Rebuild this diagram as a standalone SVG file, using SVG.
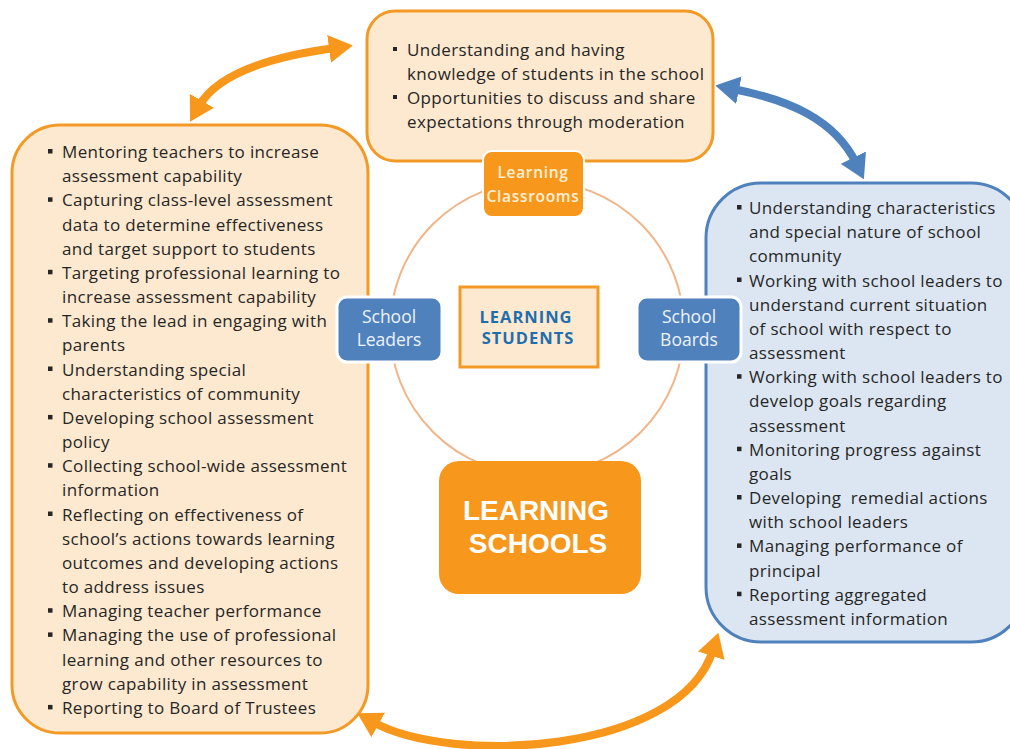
<svg xmlns="http://www.w3.org/2000/svg" width="1010" height="749" viewBox="0 0 1010 749">
<style>
.txt{font-family:"Open Sans","Liberation Sans",sans-serif;font-size:17px;letter-spacing:0.35px;fill:#262626;}
.bul{fill:#262626;}
.obox{fill:#fde9cf;stroke:#f39a26;stroke-width:3;}
.bbox{fill:#dce6f2;stroke:#4f81bd;stroke-width:3;}
.bnode{fill:#4f81bd;stroke:#ffffff;stroke-width:3;}
.bnode-t{font-family:"Open Sans","Liberation Sans",sans-serif;font-size:17.5px;fill:#eef3fa;text-anchor:middle;}
.oarrow{fill:none;stroke:#f7981d;stroke-width:8;}
.barrow{fill:none;stroke:#4f81bd;stroke-width:8;}
</style>
<defs>
<marker id="headO" markerUnits="userSpaceOnUse" markerWidth="24" markerHeight="28" refX="6" refY="14" orient="auto-start-reverse" viewBox="0 0 24 28">
<path d="M0,0 L24,14 L0,28 z" fill="#f7981d"/>
</marker>
<marker id="headB" markerUnits="userSpaceOnUse" markerWidth="24" markerHeight="28" refX="6" refY="14" orient="auto-start-reverse" viewBox="0 0 24 28">
<path d="M0,0 L24,14 L0,28 z" fill="#4f81bd"/>
</marker>
</defs>
<rect width="1010" height="749" fill="#ffffff"/>

<g id="ring">
<circle cx="537" cy="328" r="147" fill="none" stroke="#f0b58a" stroke-width="2"/>
</g>

<g id="connectors">
<path class="oarrow" d="M199,106 C215,78 260,58 335,48" marker-start="url(#headO)" marker-end="url(#headO)"/>
<path class="barrow" d="M733,89 C790,100 835,120 856,163" marker-start="url(#headB)" marker-end="url(#headB)"/>
<path class="oarrow" d="M373,722 C450,765 680,755 713,650" marker-start="url(#headO)" marker-end="url(#headO)"/>
</g>

<g id="classroom-list">
<rect class="obox" x="367" y="11" width="346" height="150" rx="28"/>
<rect class="bul" x="393" y="47" width="4" height="4"/>
<rect class="bul" x="393" y="95" width="4" height="4"/>
<text class="txt" x="407" y="56">Understanding and having</text>
<text class="txt" x="407" y="80">knowledge of students in the school</text>
<text class="txt" x="407" y="104">Opportunities to discuss and share</text>
<text class="txt" x="407" y="128">expectations through moderation</text>
</g>

<g id="leaders-list">
<rect class="obox" x="12" y="125" width="356" height="608" rx="48"/>
<g class="bul">
<rect x="48" y="149" width="4.5" height="4.5"/>
<rect x="48" y="197.3" width="4.5" height="4.5"/>
<rect x="48" y="269.8" width="4.5" height="4.5"/>
<rect x="48" y="318.2" width="4.5" height="4.5"/>
<rect x="48" y="366.5" width="4.5" height="4.5"/>
<rect x="48" y="414.9" width="4.5" height="4.5"/>
<rect x="48" y="463.2" width="4.5" height="4.5"/>
<rect x="48" y="511.5" width="4.5" height="4.5"/>
<rect x="48" y="608.2" width="4.5" height="4.5"/>
<rect x="48" y="632.4" width="4.5" height="4.5"/>
<rect x="48" y="704.9" width="4.5" height="4.5"/>
</g>
<text class="txt" x="62" y="158">Mentoring teachers to increase</text>
<text class="txt" x="62" y="182.2">assessment capability</text>
<text class="txt" x="62" y="206.3">Capturing class-level assessment</text>
<text class="txt" x="62" y="230.5">data to determine effectiveness</text>
<text class="txt" x="62" y="254.7">and target support to students</text>
<text class="txt" x="62" y="278.8">Targeting professional learning to</text>
<text class="txt" x="62" y="303">increase assessment capability</text>
<text class="txt" x="62" y="327.2">Taking the lead in engaging with</text>
<text class="txt" x="62" y="351.4">parents</text>
<text class="txt" x="62" y="375.5">Understanding special</text>
<text class="txt" x="62" y="399.7">characteristics of community</text>
<text class="txt" x="62" y="423.9">Developing school assessment</text>
<text class="txt" x="62" y="448">policy</text>
<text class="txt" x="62" y="472.2">Collecting school-wide assessment</text>
<text class="txt" x="62" y="496.4">information</text>
<text class="txt" x="62" y="520.5">Reflecting on effectiveness of</text>
<text class="txt" x="62" y="544.7">school’s actions towards learning</text>
<text class="txt" x="62" y="568.9">outcomes and developing actions</text>
<text class="txt" x="62" y="593.1">to address issues</text>
<text class="txt" x="62" y="617.2">Managing teacher performance</text>
<text class="txt" x="62" y="641.4">Managing the use of professional</text>
<text class="txt" x="62" y="665.6">learning and other resources to</text>
<text class="txt" x="62" y="689.7">grow capability in assessment</text>
<text class="txt" x="62" y="713.9">Reporting to Board of Trustees</text>
</g>

<g id="boards-list">
<rect class="bbox" x="706" y="183" width="320" height="459" rx="55"/>
<g class="bul">
<rect x="737" y="205" width="4.5" height="4.5"/>
<rect x="737" y="277.5" width="4.5" height="4.5"/>
<rect x="737" y="374.2" width="4.5" height="4.5"/>
<rect x="737" y="446.7" width="4.5" height="4.5"/>
<rect x="737" y="495" width="4.5" height="4.5"/>
<rect x="737" y="543.4" width="4.5" height="4.5"/>
<rect x="737" y="591.7" width="4.5" height="4.5"/>
</g>
<text class="txt" x="749" y="214">Understanding characteristics</text>
<text class="txt" x="749" y="238.2">and special nature of school</text>
<text class="txt" x="749" y="262.3">community</text>
<text class="txt" x="749" y="286.5">Working with school leaders to</text>
<text class="txt" x="749" y="310.7">understand current situation</text>
<text class="txt" x="749" y="334.9">of school with respect to</text>
<text class="txt" x="749" y="359">assessment</text>
<text class="txt" x="749" y="383.2">Working with school leaders to</text>
<text class="txt" x="749" y="407.4">develop goals regarding</text>
<text class="txt" x="749" y="431.5">assessment</text>
<text class="txt" x="749" y="455.7">Monitoring progress against</text>
<text class="txt" x="749" y="479.9">goals</text>
<text class="txt" x="749" y="504" xml:space="preserve">Developing  remedial actions</text>
<text class="txt" x="749" y="528.2">with school leaders</text>
<text class="txt" x="749" y="552.4">Managing performance of</text>
<text class="txt" x="749" y="576.6">principal</text>
<text class="txt" x="749" y="600.7">Reporting aggregated</text>
<text class="txt" x="749" y="624.9">assessment information</text>
</g>

<g id="learning-classrooms">
<rect x="483" y="151" width="101" height="66" rx="9" fill="#f7981d" stroke="#ffffff" stroke-width="2"/>
<text x="533" y="178" text-anchor="middle" style="font-family:'Open Sans','Liberation Sans',sans-serif;font-size:15.5px;font-weight:600;fill:#fdf0d6;letter-spacing:0.7px">Learning</text>
<text x="533" y="202" text-anchor="middle" style="font-family:'Open Sans','Liberation Sans',sans-serif;font-size:15.5px;font-weight:600;fill:#fdf0d6;letter-spacing:0.7px">Classrooms</text>
</g>

<g id="school-leaders">
<rect class="bnode" x="337" y="297" width="105" height="65" rx="10"/>
<text class="bnode-t" x="389" y="323">School</text>
<text class="bnode-t" x="389" y="346">Leaders</text>
</g>

<g id="school-boards">
<rect class="bnode" x="637" y="297" width="104" height="65" rx="10"/>
<text class="bnode-t" x="689" y="323">School</text>
<text class="bnode-t" x="689" y="346">Boards</text>
</g>

<g id="learning-students">
<rect x="460" y="287" width="138" height="80" fill="#fde9d0" stroke="#f39a26" stroke-width="3"/>
<text x="526" y="323" text-anchor="middle" style="font-family:'Open Sans','Liberation Sans',sans-serif;font-size:16.5px;font-weight:700;fill:#1f6eae;letter-spacing:1px">LEARNING</text>
<text x="528" y="344" text-anchor="middle" style="font-family:'Open Sans','Liberation Sans',sans-serif;font-size:16.5px;font-weight:700;fill:#1f6eae;letter-spacing:1px">STUDENTS</text>
</g>

<g id="learning-schools">
<rect x="439" y="461" width="202" height="133" rx="20" fill="#f7981d"/>
<text x="536" y="520" text-anchor="middle" style="font-family:'Liberation Sans',Arial,sans-serif;font-size:28px;font-weight:700;fill:#ffffff">LEARNING</text>
<text x="538" y="553" text-anchor="middle" style="font-family:'Liberation Sans',Arial,sans-serif;font-size:28px;font-weight:700;fill:#ffffff">SCHOOLS</text>
</g>
</svg>
